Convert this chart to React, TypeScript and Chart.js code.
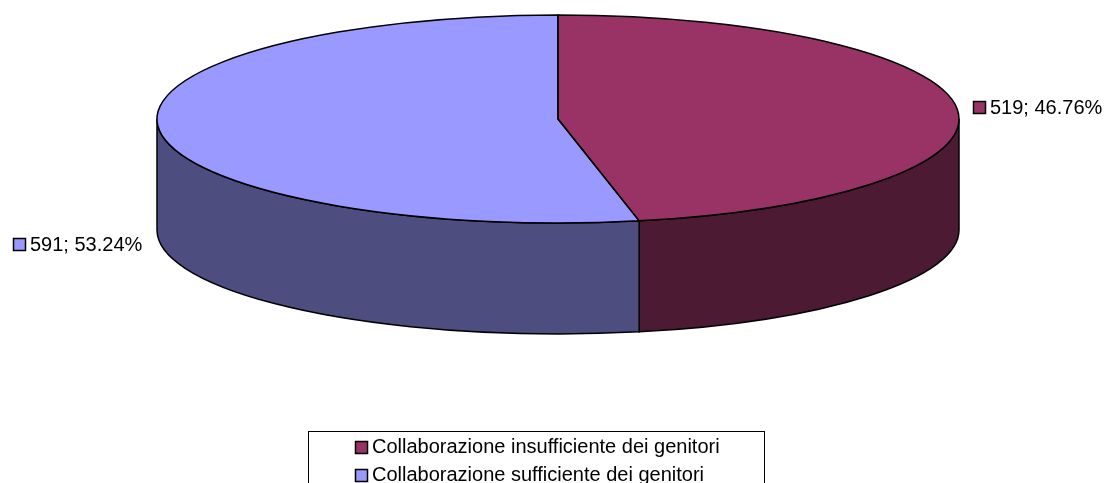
import React, { useEffect, useRef } from "react";
import { Chart, registerables } from "chart.js";

Chart.register(...registerables);

const categories = [
  "Collaborazione insufficiente dei genitori",
  "Collaborazione sufficiente dei genitori",
];
const values = [519, 591];
const topColors = ["#993366", "#9999FF"];
const sideColors = ["#4D1A33", "#4D4D80"];
const percentLabels = ["46.76%", "53.24%"];
const FONT = '"Liberation Sans", Arial, sans-serif';
const DEPTH = 111;
const RX = 401;
const labelAnchors = [
  { keyX: 973, y: 107 },
  { keyX: 13, y: 244 },
];

function geometry(chart: any) {
  const { chartArea } = chart;
  const arcs = chart.getDatasetMeta(0).data;
  return {
    arcs,
    cx: (chartArea.left + chartArea.right) / 2,
    cy: (chartArea.top + chartArea.bottom) / 2,
    ry: arcs[0].outerRadius,
  };
}

const pie3d = {
  id: "pie3d",
  afterLayout(chart: any) {
    const lg = chart.legend;
    const h = lg.bottom - lg.top;
    lg.top = 429;
    lg.bottom = 429 + h;
    lg.left = 347;
    lg.right = 764;
  },
  beforeDatasetsDraw(chart: any) {
    const { ctx } = chart;
    const { arcs, cx, cy, ry } = geometry(chart);
    // extruded wall: only the part of each slice that faces the viewer
    arcs.forEach((arc: any, i: number) => {
      const a = Math.max(arc.startAngle, 0);
      const b = Math.min(arc.endAngle, Math.PI);
      if (b <= a) return;
      ctx.save();
      ctx.beginPath();
      ctx.ellipse(cx, cy, RX, ry, 0, a, b);
      ctx.ellipse(cx, cy + DEPTH, RX, ry, 0, b, a, true);
      ctx.closePath();
      ctx.fillStyle = sideColors[i];
      ctx.fill();
      ctx.lineWidth = 1.5;
      ctx.strokeStyle = "#000";
      ctx.stroke();
      ctx.restore();
    });
    ctx.save();
    ctx.translate(cx, cy);
    ctx.scale(RX / ry, 1);
    ctx.translate(-cx, -cy);
  },
  afterDatasetsDraw(chart: any) {
    const { ctx } = chart;
    ctx.restore();
    const { arcs, cx, cy, ry } = geometry(chart);
    ctx.save();
    ctx.lineWidth = 1.5;
    ctx.strokeStyle = "#000";
    arcs.forEach((arc: any) => {
      ctx.beginPath();
      ctx.moveTo(cx, cy);
      ctx.ellipse(cx, cy, RX, ry, 0, arc.startAngle, arc.endAngle);
      ctx.closePath();
      ctx.stroke();
    });
    ctx.restore();
  },
  afterDraw(chart: any) {
    const { ctx } = chart;
    ctx.save();
    ctx.font = `20px ${FONT}`;
    ctx.textBaseline = "middle";
    values.forEach((v, i) => {
      const { keyX, y } = labelAnchors[i];
      ctx.fillStyle = topColors[i];
      ctx.fillRect(keyX, y - 6, 13, 13);
      ctx.lineWidth = 1.5;
      ctx.strokeStyle = "#000";
      ctx.strokeRect(keyX + 0.5, y - 5.5, 12, 12);
      ctx.fillStyle = "#000";
      ctx.fillText(`${v}; ${percentLabels[i]}`, keyX + 17, y + 1);
    });
    // legend frame, open past the bottom of the picture
    ctx.lineWidth = 1;
    ctx.strokeStyle = "#000";
    ctx.strokeRect(308.5, 431.5, 456, 70);
    // legend keys, placed from the legend's own hit boxes
    chart.legend.legendHitBoxes.forEach((box: any, i: number) => {
      const y = box.top + box.height / 2 - 6;
      ctx.fillStyle = topColors[i];
      ctx.fillRect(box.left, y, 13, 13);
      ctx.lineWidth = 1.5;
      ctx.strokeStyle = "#000";
      ctx.strokeRect(box.left + 0.5, y + 0.5, 12, 12);
    });
    ctx.restore();
  },
};

export default function App() {
  const ref = useRef<HTMLCanvasElement>(null);
  useEffect(() => {
    const chart = new Chart(ref.current!, {
      type: "pie",
      data: {
        labels: categories,
        datasets: [{ data: values, backgroundColor: topColors, borderWidth: 0 }],
      },
      options: {
        responsive: false,
        animation: false,
        layout: { padding: { left: 257, right: 246, top: 15, bottom: 194 } },
        plugins: {
          tooltip: { enabled: false },
          legend: {
            display: true,
            position: "bottom",
            align: "start",
            labels: {
              boxWidth: 7,
              boxHeight: 13,
              padding: 8,
              color: "#000",
              font: { family: FONT, size: 20 },
              generateLabels: () =>
                categories.map((text, i) => ({
                  text,
                  fillStyle: "rgba(0,0,0,0)",
                  strokeStyle: "rgba(0,0,0,0)",
                  lineWidth: 0,
                  index: i,
                })),
            },
          },
        },
      },
      plugins: [pie3d],
    } as any);
    return () => chart.destroy();
  }, []);
  return (
    <div style={{ position: "absolute", left: 0, top: 0, width: 1105, height: 483, background: "#fff", overflow: "hidden" }}>
      <canvas ref={ref} width={1105} height={483} style={{ display: "block" }} />
    </div>
  );
}
